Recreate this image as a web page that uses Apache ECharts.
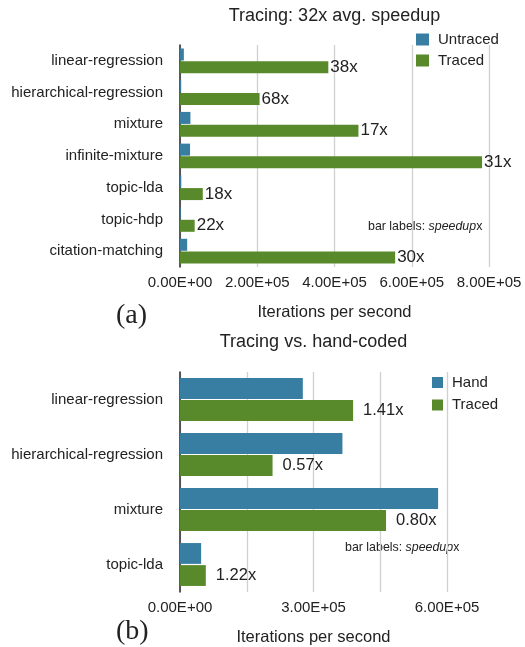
<!DOCTYPE html>
<html>
<head>
<meta charset="utf-8">
<script src="https://cdn.jsdelivr.net/npm/echarts@6/dist/echarts.min.js"></script>
<style>
  html, body { margin: 0; padding: 0; background: #fff; }
  #chart { width: 525px; height: 647px; }
</style>
</head>
<body>
<div id="chart"></div>
<script>
// (a) Tracing speedup per benchmark
const benchA = ['linear-regression', 'hierarchical-regression', 'mixture', 'infinite-mixture', 'topic-lda', 'topic-hdp', 'citation-matching'];
const untracedA = [1.0e4, 3.0e3, 2.7e4, 2.6e4, 3.3e3, 1.7e3, 1.86e4];
const tracedA = [3.84e5, 2.06e5, 4.62e5, 7.82e5, 5.9e4, 3.8e4, 5.57e5];
const speedupA = [38, 68, 17, 31, 18, 22, 30];
const ticksA = [0, 2e5, 4e5, 6e5, 8e5];

// (b) Tracing vs. hand-coded inference
const benchB = ['linear-regression', 'hierarchical-regression', 'mixture', 'topic-lda'];
const handB = [2.76e5, 3.65e5, 5.80e5, 4.75e4];
const tracedB = [3.89e5, 2.08e5, 4.63e5, 5.8e4];
const speedupB = [1.41, 0.57, 0.80, 1.22];
const ticksB = [0, 3e5, 6e5];

const BLUE = '#387ea3';
const GREEN = '#58892a';
const INK = '#222';
const FONT = 'Liberation Sans';

function sci(v) {
  if (v === 0) return '0.00E+00';
  const e = Math.floor(Math.log10(Math.abs(v)));
  const m = v / Math.pow(10, e);
  return m.toFixed(2) + 'E' + (e >= 0 ? '+' : '-') + String(Math.abs(e)).padStart(2, '0');
}

function valueAxis(gridIndex, ticks, step) {
  return {
    type: 'value', gridIndex,
    min: ticks[0], max: ticks[ticks.length - 1], interval: step,
    axisLine: { show: false }, axisTick: { show: false },
    splitLine: { show: true, lineStyle: { color: '#d0d0d0', width: 1.3 } },
    axisLabel: {
      fontFamily: FONT, fontSize: 15, color: INK, margin: 8,
      formatter: v => ticks.some(t => Math.abs(t - v) < 1) ? sci(v) : ''
    },
    name: 'Iterations per second', nameLocation: 'middle', nameGap: 37,
    nameTextStyle: { fontFamily: FONT, fontSize: 16.5, color: INK }
  };
}

function catAxis(gridIndex, cats) {
  return {
    type: 'category', gridIndex, data: cats, inverse: true,
    axisLine: { show: true, lineStyle: { color: '#333', width: 1.6 } },
    axisTick: { show: false },
    axisLabel: { fontFamily: FONT, fontSize: 15, color: INK, margin: 17 }
  };
}

function barSeries(name, axis, data, color, label) {
  return {
    type: 'bar', name, xAxisIndex: axis, yAxisIndex: axis, data,
    barGap: '6%', barCategoryGap: '22%',
    itemStyle: { color },
    label: label || { show: false }
  };
}

const option = {
  animation: false,
  backgroundColor: '#fff',
  textStyle: { fontFamily: FONT },
  title: [
    { text: 'Tracing: 32x avg. speedup', left: 329.5, top: 2, textAlign: 'center',
      textStyle: { fontFamily: FONT, fontSize: 18, fontWeight: 'normal', color: INK } },
    { text: 'Tracing vs. hand-coded', left: 308.5, top: 328, textAlign: 'center',
      textStyle: { fontFamily: FONT, fontSize: 18, fontWeight: 'normal', color: INK } }
  ],
  legend: [
    { data: ['Untraced', 'Traced'], orient: 'vertical', left: 416, top: 32, padding: 0,
      itemWidth: 13, itemHeight: 12, itemGap: 6, icon: 'rect', selectedMode: false,
      textStyle: { fontFamily: FONT, fontSize: 15, color: INK, padding: [0, 0, 0, 4] } },
    { data: ['Hand', 'Traced'], orient: 'vertical', left: 432, top: 375, padding: 0,
      itemWidth: 11, itemHeight: 11, itemGap: 7.5, icon: 'rect', selectedMode: false,
      textStyle: { fontFamily: FONT, fontSize: 15, color: INK, padding: [0, 0, 0, 4] } }
  ],
  grid: [
    { left: 180, top: 45, width: 309, height: 222 },
    { left: 180, top: 372, width: 267, height: 220 }
  ],
  xAxis: [valueAxis(0, ticksA, 2e5), valueAxis(1, ticksB, 1.5e5)],
  yAxis: [catAxis(0, benchA), catAxis(1, benchB)],
  series: [
    barSeries('Untraced', 0, untracedA, BLUE),
    barSeries('Traced', 0, tracedA, GREEN, {
      show: true, position: 'right', distance: 2,
      fontFamily: FONT, fontSize: 17, color: INK,
      formatter: p => speedupA[p.dataIndex] + 'x'
    }),
    barSeries('Hand', 1, handB, BLUE),
    barSeries('Traced', 1, tracedB, GREEN, {
      show: true, position: 'right', distance: 10,
      fontFamily: FONT, fontSize: 16.5, color: INK,
      formatter: p => speedupB[p.dataIndex].toFixed(2) + 'x'
    })
  ],
  graphic: [
    { type: 'text', left: 368, top: 221,
      style: { text: '{n|bar labels: }{i|speedup}{n|x}',
        rich: { n: { fontFamily: FONT, fontSize: 12.4, fill: INK },
                i: { fontFamily: FONT, fontSize: 12.4, fontStyle: 'italic', fill: INK } } } },
    { type: 'text', left: 345, top: 542,
      style: { text: '{n|bar labels: }{i|speedup}{n|x}',
        rich: { n: { fontFamily: FONT, fontSize: 12.4, fill: INK },
                i: { fontFamily: FONT, fontSize: 12.4, fontStyle: 'italic', fill: INK } } } },
    { type: 'text', left: 116, top: 302,
      style: { text: '(a)', fontFamily: 'Liberation Serif', fontSize: 28, fill: INK } },
    { type: 'text', left: 116, top: 618,
      style: { text: '(b)', fontFamily: 'Liberation Serif', fontSize: 28, fill: INK } }
  ]
};

const chart = echarts.init(document.getElementById('chart'), null, { renderer: 'canvas' });
chart.setOption(option);
</script>
</body>
</html>
